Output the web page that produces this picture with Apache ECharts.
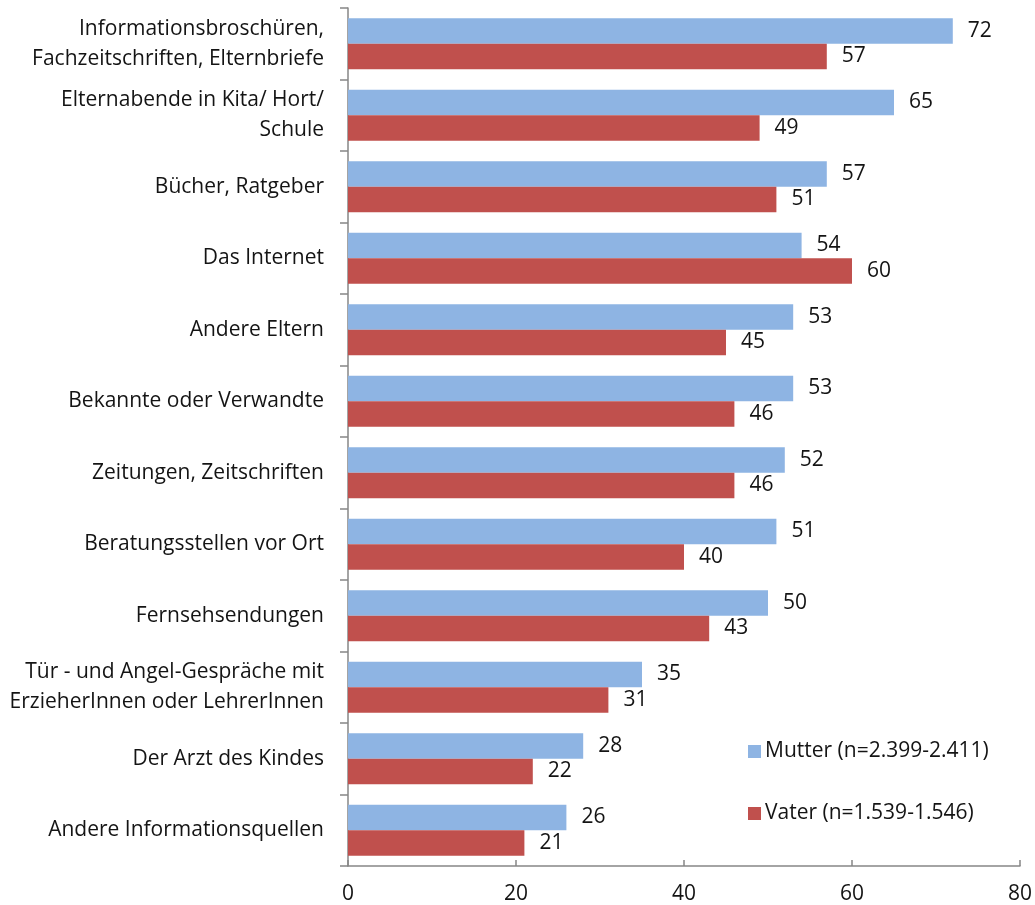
<!DOCTYPE html>
<html><head><meta charset="utf-8">
<script src="https://cdn.jsdelivr.net/npm/echarts@6/dist/echarts.min.js"></script>
<style>html,body{margin:0;padding:0;background:#fff}#c{width:1035px;height:905px}</style>
</head><body><div id="c"></div>
<script>
const categories = [
  "Informationsbroschüren,\nFachzeitschriften, Elternbriefe",
  "Elternabende in Kita/ Hort/\nSchule",
  "Bücher, Ratgeber",
  "Das Internet",
  "Andere Eltern",
  "Bekannte oder Verwandte",
  "Zeitungen, Zeitschriften",
  "Beratungsstellen vor Ort",
  "Fernsehsendungen",
  "Tür - und Angel-Gespräche mit\nErzieherInnen oder LehrerInnen",
  "Der Arzt des Kindes",
  "Andere Informationsquellen"
];
const mutter = [72, 65, 57, 54, 53, 53, 52, 51, 50, 35, 28, 26];
const vater = [57, 49, 51, 60, 45, 46, 46, 40, 43, 31, 22, 21];
const seriesNames = ["Mutter (n=2.399-2.411)", "Vater (n=1.539-1.546)"];
const xTicks = { min: 0, max: 80, interval: 20 };

const font = "'Open Sans', Lato, sans-serif";
const fs = 21;
const txt = '#141414';
const axisCol = '#868686';
const chart = echarts.init(document.getElementById('c'), null, { renderer: 'canvas' });
const lbl = { show: true, position: 'right', distance: 15, color: txt, fontSize: fs, fontFamily: font };
chart.setOption({
  animation: false,
  grid: { left: 348, right: 13, top: 8, bottom: 38, containLabel: false },
  legend: {
    orient: 'vertical', left: 743, top: 736, itemWidth: 13, itemHeight: 13, itemGap: 41,
    icon: 'rect',
    textStyle: { color: txt, fontSize: fs, fontFamily: font, padding: [0, 0, 0, -1] },
    data: seriesNames
  },
  xAxis: {
    type: 'value', min: xTicks.min, max: xTicks.max, interval: xTicks.interval,
    axisLine: { show: true, lineStyle: { color: axisCol, width: 1.5 } },
    axisTick: { show: true, inside: true, length: 6, lineStyle: { color: axisCol, width: 1.5 } },
    splitLine: { show: false },
    axisLabel: { color: txt, fontSize: fs, fontFamily: font, margin: 18 }
  },
  yAxis: {
    type: 'category', data: categories, inverse: true,
    axisLine: { show: true, lineStyle: { color: axisCol, width: 1.5 } },
    axisTick: { show: true, length: 8, lineStyle: { color: axisCol, width: 1.5 } },
    axisLabel: { color: txt, fontSize: fs, fontFamily: font, margin: 24, lineHeight: 30, align: 'right',
      padding: [4, 0, 0, 0] }
  },
  series: [
    { name: seriesNames[0], type: 'bar', data: mutter, barWidth: 25.5, barGap: '0%',
      itemStyle: { color: '#8EB4E3' }, label: lbl },
    { name: seriesNames[1], type: 'bar', data: vater, barWidth: 25.5, barGap: '0%',
      itemStyle: { color: '#C0504D' }, label: lbl }
  ]
});
</script></body></html>
